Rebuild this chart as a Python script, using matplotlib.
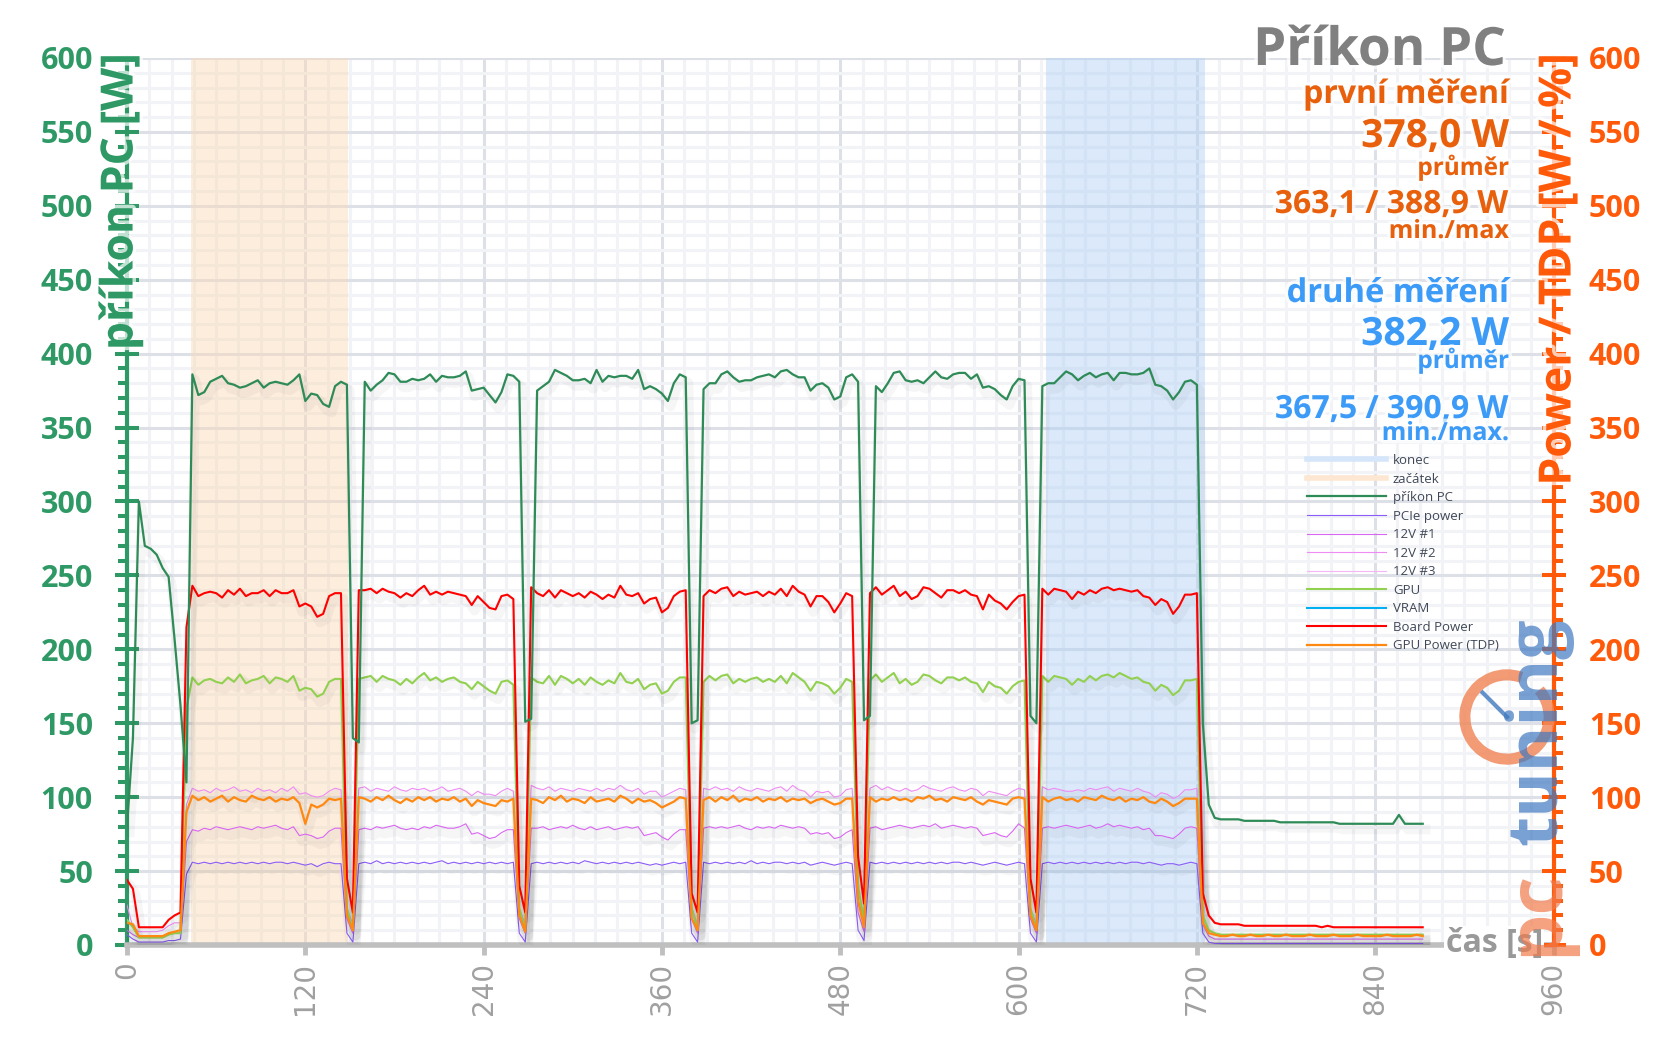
import numpy as np
import matplotlib
matplotlib.use("Agg")
import matplotlib.pyplot as plt
from matplotlib.lines import Line2D
from matplotlib.ticker import MultipleLocator
import matplotlib.patheffects as pe
from matplotlib.patches import Arc

# ---------------- data (sampled every 4 s) ----------------
TIME_S = np.arange(0, 873, 4)

PC_POWER = [
    80, 140, 300, 270, 268, 264, 255, 249, 207, 162,
    110, 386, 372, 374, 381, 383, 385, 380, 379, 377,
    378, 380, 382, 377, 380, 381, 380, 379, 382, 386,
    368, 373, 372, 366, 364, 378, 381, 379, 140, 137,
    381, 375, 379, 382, 387, 386, 381, 381, 383, 382,
    383, 386, 381, 385, 384, 384, 385, 388, 375, 376,
    377, 372, 367, 374, 386, 385, 381, 151, 153, 375,
    378, 381, 389, 387, 385, 382, 382, 383, 380, 389,
    381, 385, 384, 385, 385, 383, 389, 376, 378, 376,
    373, 368, 380, 386, 384, 150, 152, 376, 380, 380,
    386, 388, 384, 381, 382, 382, 384, 385, 386, 384,
    388, 389, 386, 384, 384, 375, 379, 380, 377, 369,
    371, 384, 386, 381, 152, 155, 378, 374, 380, 387,
    388, 382, 381, 382, 380, 384, 388, 384, 383, 386,
    387, 387, 383, 386, 377, 378, 376, 372, 369, 378,
    383, 382, 155, 150, 378, 380, 380, 384, 388, 386,
    382, 385, 387, 384, 386, 387, 382, 387, 387, 386,
    386, 387, 390, 379, 378, 375, 369, 374, 381, 382,
    379, 150, 95, 86, 85, 85, 85, 85, 84, 84,
    84, 84, 84, 84, 83, 83, 83, 83, 83, 83,
    83, 83, 83, 83, 82, 82, 82, 82, 82, 82,
    82, 82, 82, 82, 88, 82, 82, 82, 82,
]

BOARD_POWER = [
    44, 38, 12, 12, 12, 12, 12, 17, 20, 22,
    215, 243, 236, 238, 239, 238, 235, 240, 237, 241,
    236, 238, 238, 240, 236, 240, 238, 238, 240, 229,
    231, 229, 222, 224, 236, 238, 238, 45, 22, 240,
    240, 241, 238, 241, 239, 238, 235, 238, 236, 240,
    243, 237, 239, 237, 239, 238, 237, 236, 230, 236,
    232, 228, 227, 236, 237, 234, 40, 22, 242, 238,
    236, 240, 235, 240, 238, 236, 238, 235, 239, 237,
    234, 237, 235, 243, 237, 236, 238, 231, 234, 235,
    225, 228, 236, 239, 240, 35, 22, 236, 240, 238,
    241, 242, 236, 239, 237, 238, 239, 236, 239, 237,
    241, 236, 243, 239, 237, 229, 236, 236, 232, 225,
    231, 238, 236, 60, 28, 238, 242, 237, 240, 243,
    236, 239, 234, 236, 242, 241, 238, 235, 240, 240,
    238, 240, 237, 236, 227, 237, 233, 231, 227, 232,
    236, 237, 45, 22, 241, 237, 241, 240, 239, 234,
    239, 237, 240, 238, 241, 242, 240, 241, 240, 239,
    240, 236, 235, 230, 234, 232, 224, 229, 237, 237,
    238, 35, 20, 15, 14, 14, 14, 14, 13, 13,
    13, 13, 13, 13, 13, 13, 13, 13, 13, 13,
    13, 12, 13, 12, 12, 12, 12, 12, 12, 12,
    12, 12, 12, 12, 12, 12, 12, 12, 12,
]

GPU = [
    17, 12, 5, 5, 5, 5, 5, 7, 8, 8,
    160, 181, 176, 179, 180, 178, 177, 181, 178, 183,
    177, 179, 180, 182, 177, 181, 180, 178, 182, 172,
    174, 173, 168, 170, 178, 180, 180, 25, 10, 180,
    181, 182, 178, 182, 180, 179, 176, 180, 177, 181,
    184, 179, 181, 178, 180, 181, 178, 177, 173, 178,
    175, 172, 170, 178, 179, 176, 25, 10, 181, 178,
    177, 182, 176, 182, 180, 177, 180, 176, 181, 178,
    176, 179, 177, 184, 178, 177, 180, 173, 176, 177,
    170, 172, 178, 181, 181, 25, 10, 178, 182, 179,
    182, 183, 177, 180, 178, 180, 181, 178, 180, 178,
    182, 177, 184, 181, 178, 172, 178, 177, 175, 170,
    174, 180, 178, 40, 15, 179, 183, 178, 181, 184,
    177, 180, 176, 178, 183, 182, 179, 177, 181, 181,
    179, 181, 178, 177, 171, 178, 175, 174, 170, 175,
    178, 179, 25, 10, 182, 178, 182, 181, 180, 176,
    180, 178, 182, 179, 182, 183, 181, 184, 182, 180,
    181, 178, 177, 172, 176, 174, 169, 172, 179, 179,
    180, 20, 10, 8, 7, 7, 7, 7, 7, 7,
    7, 7, 7, 7, 7, 7, 7, 7, 7, 7,
    7, 7, 7, 7, 7, 7, 7, 7, 7, 7,
    7, 7, 7, 7, 7, 7, 7, 7, 7,
]

GPU_TDP = [
    15, 14, 6, 6, 6, 6, 6, 8, 9, 10,
    90, 101, 98, 100, 97, 99, 101, 97, 100, 98,
    97, 101, 99, 98, 100, 97, 99, 98, 100, 96,
    82, 95, 93, 95, 99, 98, 99, 20, 10, 100,
    99, 97, 100, 98, 101, 98, 96, 99, 97, 100,
    98, 100, 97, 99, 98, 100, 97, 99, 94, 98,
    96, 95, 94, 98, 97, 99, 20, 9, 99, 98,
    96, 100, 98, 101, 97, 99, 98, 96, 100, 97,
    98, 99, 97, 101, 99, 96, 99, 97, 98, 96,
    93, 95, 97, 100, 99, 18, 10, 98, 100, 97,
    100, 98, 101, 97, 99, 98, 100, 97, 99, 98,
    100, 97, 99, 98, 99, 96, 98, 99, 97, 95,
    96, 99, 99, 30, 12, 100, 97, 99, 98, 100,
    98, 99, 97, 100, 99, 101, 98, 99, 97, 100,
    99, 98, 100, 97, 95, 98, 97, 96, 95, 99,
    100, 99, 20, 10, 100, 97, 99, 100, 98, 99,
    97, 100, 99, 98, 101, 99, 98, 100, 97, 99,
    98, 100, 97, 96, 99, 97, 94, 96, 99, 99,
    99, 15, 8, 7, 6, 6, 7, 6, 6, 7,
    6, 6, 7, 6, 6, 7, 6, 6, 6, 7,
    6, 6, 6, 7, 6, 6, 6, 7, 6, 6,
    6, 6, 7, 6, 6, 6, 6, 7, 6,
]

V12_2 = [
    27, 12, 9, 9, 9, 9, 10, 13, 15, 15,
    95, 106, 104, 105, 103, 106, 104, 105, 107, 104,
    105, 103, 106, 104, 105, 103, 106, 104, 107, 102,
    103, 101, 100, 101, 104, 106, 105, 25, 14, 106,
    107, 104, 106, 105, 104, 107, 105, 104, 106, 105,
    106, 104, 105, 107, 104, 105, 106, 104, 101, 104,
    102, 102, 101, 104, 106, 104, 25, 14, 108, 106,
    105, 107, 104, 106, 105, 104, 106, 105, 104, 106,
    104, 106, 105, 108, 105, 104, 106, 102, 104, 104,
    100, 102, 104, 106, 105, 25, 14, 106, 105, 107,
    105, 106, 104, 107, 105, 104, 106, 105, 104, 106,
    107, 104, 108, 105, 104, 100, 104, 103, 104, 100,
    101, 105, 106, 30, 16, 106, 108, 105, 107, 105,
    104, 106, 104, 105, 108, 106, 105, 104, 106, 107,
    105, 104, 106, 105, 101, 104, 103, 102, 101, 104,
    106, 105, 25, 14, 107, 105, 106, 105, 104, 104,
    105, 104, 106, 105, 106, 107, 104, 106, 105, 104,
    106, 104, 103, 100, 103, 102, 99, 101, 105, 105,
    106, 18, 10, 8, 7, 7, 7, 7, 7, 7,
    7, 7, 7, 7, 7, 7, 7, 7, 7, 7,
    7, 7, 7, 7, 7, 7, 7, 7, 7, 7,
    7, 7, 7, 7, 7, 7, 7, 7, 7,
]

V12_1 = [
    10, 7, 5, 5, 5, 5, 5, 7, 8, 8,
    70, 78, 77, 79, 78, 80, 79, 78, 79, 80,
    79, 78, 80, 79, 80, 81, 79, 78, 80, 74,
    75, 74, 72, 73, 77, 79, 79, 18, 8, 78,
    79, 78, 80, 79, 80, 81, 79, 78, 79, 78,
    80, 79, 81, 80, 79, 79, 80, 82, 75, 76,
    74, 72, 73, 76, 78, 78, 18, 8, 79, 79,
    80, 78, 79, 80, 79, 81, 79, 78, 80, 78,
    79, 80, 78, 79, 80, 79, 80, 74, 75, 76,
    73, 71, 75, 78, 78, 18, 8, 79, 80, 79,
    80, 79, 80, 81, 79, 78, 80, 79, 80, 79,
    81, 80, 79, 80, 79, 75, 76, 75, 76, 72,
    73, 76, 78, 22, 9, 79, 80, 78, 79, 80,
    81, 80, 79, 80, 81, 80, 82, 79, 80, 81,
    80, 79, 80, 79, 74, 75, 76, 74, 73, 77,
    82, 79, 18, 8, 79, 80, 79, 80, 81, 80,
    79, 80, 81, 79, 80, 82, 80, 81, 80, 79,
    80, 78, 79, 74, 74, 73, 72, 75, 79, 80,
    79, 14, 6, 4, 4, 4, 4, 4, 4, 4,
    4, 4, 4, 4, 4, 4, 4, 4, 4, 4,
    4, 4, 4, 4, 4, 4, 4, 4, 4, 4,
    4, 4, 4, 4, 4, 4, 4, 4, 4,
]

PCIE = [
    7, 4, 2, 2, 2, 2, 2, 3, 3, 4,
    48, 56, 55, 56, 55, 56, 55, 56, 55, 56,
    55, 56, 55, 56, 55, 56, 56, 55, 56, 55,
    54, 55, 53, 55, 56, 55, 55, 8, 2, 55,
    56, 55, 57, 55, 56, 55, 56, 55, 56, 55,
    56, 55, 56, 57, 55, 56, 55, 56, 55, 56,
    55, 56, 55, 56, 55, 56, 8, 2, 55, 56,
    55, 56, 55, 56, 55, 56, 55, 57, 56, 55,
    56, 55, 56, 55, 56, 55, 56, 55, 54, 55,
    54, 55, 56, 55, 56, 8, 2, 56, 55, 56,
    55, 56, 55, 56, 55, 57, 55, 56, 55, 56,
    56, 55, 56, 55, 56, 54, 55, 56, 55, 54,
    55, 56, 55, 10, 3, 56, 55, 56, 55, 56,
    55, 56, 55, 56, 55, 56, 55, 56, 55, 56,
    56, 55, 56, 55, 54, 55, 56, 55, 54, 55,
    56, 55, 8, 2, 55, 56, 55, 56, 55, 56,
    55, 56, 55, 56, 55, 56, 55, 56, 55, 56,
    56, 55, 56, 55, 54, 55, 55, 54, 55, 56,
    55, 8, 2, 1, 1, 1, 1, 1, 1, 1,
    1, 1, 1, 1, 1, 1, 1, 1, 1, 1,
    1, 1, 1, 1, 1, 1, 1, 1, 1, 1,
    1, 1, 1, 1, 1, 1, 1, 1, 1,
]

V12_3 = []   # not visible in the chart
VRAM = []    # not visible in the chart

BAND_START = (43.4, 148.6)   # "začátek"
BAND_END = (618.7, 725.3)    # "konec"

X_TICKS = [0, 120, 240, 360, 480, 600, 720, 840, 960]
Y_TICKS = [0, 50, 100, 150, 200, 250, 300, 350, 400, 450, 500, 550, 600]

# ---------------- style ----------------
plt.rcParams['font.family'] = ['Open Sans', 'DejaVu Sans']
GREEN = '#2f9966'
ORANGE_AX = '#ff5a0a'
ORANGE_TX = '#e8600c'
BLUE_TX = '#3d9bf8'
GREY = '#a0a0a0'

W, H = 1657, 1044
fig = plt.figure(figsize=(W / 100, H / 100), dpi=100)
ax = fig.add_axes([127 / W, 1 - 945 / H, (1553.5 - 127) / W, (945 - 58) / H])
ax.set_xlim(0, 960)
ax.set_ylim(0, 600)

ax.set_axisbelow(True)
ax.xaxis.set_minor_locator(MultipleLocator(15))
ax.yaxis.set_minor_locator(MultipleLocator(10))
ax.grid(which='minor', color='#f1f3f6', lw=2.2)
ax.grid(which='major', color='#dde0e7', lw=2.2)

ax.axvspan(*BAND_START, facecolor='#fbd9b5', alpha=0.45, lw=0, zorder=1)
ax.axvspan(*BAND_END, facecolor='#b0d0f5', alpha=0.45, lw=0, zorder=1)

shadow = [pe.SimpleLineShadow(offset=(2, -4), shadow_color='#000000', alpha=0.035, linewidth=7),
          pe.Normal()]

series = [
    (PCIE, '#8b5cf6', 0.8, 'PCIe power'),
    (V12_1, '#d966f0', 0.8, '12V #1'),
    (V12_2, '#ee8cf3', 0.8, '12V #2'),
    (V12_3, '#f5b6f8', 0.8, '12V #3'),
    (GPU, '#92d050', 1.5, 'GPU'),
    (VRAM, '#00b0f0', 1.5, 'VRAM'),
    (BOARD_POWER, '#ff0000', 1.5, 'Board Power'),
    (GPU_TDP, '#ff8811', 1.6, 'GPU Power (TDP)'),
]
lines = {}
for vals, col, lw, lab in series:
    t = TIME_S[:len(vals)]
    ln, = ax.plot(t, vals, color=col, lw=lw, zorder=3, label=lab, path_effects=shadow)
    lines[lab] = ln
ln, = ax.plot(TIME_S[:len(PC_POWER)], PC_POWER, color='#2e8b57', lw=1.6, zorder=4,
              label='příkon PC', path_effects=shadow)
lines['příkon PC'] = ln

# spines & ticks
for s in ['top', 'right']:
    ax.spines[s].set_visible(False)
ax.spines['left'].set_color(GREEN)
ax.spines['left'].set_linewidth(3)
ax.spines['bottom'].set_color('#bfbfbf')
ax.spines['bottom'].set_linewidth(4)
ax.set_yticks(Y_TICKS)
ax.set_xticks(X_TICKS)
ax.set_xticklabels([str(v) for v in X_TICKS], rotation=90, family='DejaVu Sans',
                   fontsize=20, color=GREY)
ax.tick_params(axis='x', which='major', direction='out', length=7, width=3.5, color='#bfbfbf', pad=5)
ax.tick_params(axis='x', which='minor', length=0)
ax.tick_params(axis='y', which='major', direction='inout', length=17, width=2.9, color=GREEN,
               labelcolor=GREEN, labelsize=22, pad=16)
ax.tick_params(axis='y', which='minor', direction='out', length=6.5, width=2.9, color=GREEN)
for lbl in ax.get_yticklabels():
    lbl.set_fontweight('bold')

ax2 = ax.twinx()
ax2.set_ylim(0, 600)
for s in ['top', 'left', 'bottom']:
    ax2.spines[s].set_visible(False)
ax2.spines['right'].set_color(ORANGE_AX)
ax2.spines['right'].set_linewidth(3)
ax2.set_yticks(Y_TICKS)
ax2.yaxis.set_minor_locator(MultipleLocator(10))
ax2.tick_params(axis='y', which='major', direction='inout', length=17, width=2.9, color=ORANGE_AX,
                labelcolor=ORANGE_AX, labelsize=22, pad=17)
ax2.tick_params(axis='y', which='minor', direction='out', length=6.5, width=2.9, color=ORANGE_AX)
for lbl in ax2.get_yticklabels():
    lbl.set_fontweight('bold')

glow = [pe.withStroke(linewidth=5, foreground='white', alpha=0.7)]

# axis titles
fig.text(121 / W, 1 - 53 / H, 'příkon PC [W]', rotation=90, ha='center', va='top',
         fontsize=32, fontweight='bold', color=GREEN, path_effects=glow)
fig.text(1559 / W, 1 - 53 / H, 'Power / TDP [W / %]', rotation=90, ha='center', va='top',
         fontsize=32, fontweight='bold', color=ORANGE_AX, path_effects=glow)
fig.text(1543 / W, 1 - 944 / H, 'čas [s]', ha='right', va='center', fontsize=23,
         fontweight='bold', color='#999999',
         bbox=dict(facecolor='white', edgecolor='none', pad=1))

# title and summary texts
fig.text(1506 / W, 1 - 65 / H, 'Příkon PC', ha='right', va='baseline', fontsize=38,
         fontweight='bold', color='#808080', path_effects=glow)
RX = 1509 / W
texts = [
    ('první měření', 103, 23, ORANGE_TX),
    ('378,0 W', 147, 28, ORANGE_TX),
    ('průměr', 175, 17.5, ORANGE_TX),
    ('363,1 / 388,9 W', 213, 23, ORANGE_TX),
    ('min./max', 238, 18, ORANGE_TX),
    ('druhé měření', 302, 23.5, BLUE_TX),
    ('382,2 W', 345, 28, BLUE_TX),
    ('průměr', 368, 17.5, BLUE_TX),
    ('367,5 / 390,9 W', 418, 23, BLUE_TX),
    ('min./max.', 440, 18, BLUE_TX),
]
for s, yb, fs, col in texts:
    fig.text(RX, 1 - yb / H, s, ha='right', va='baseline', fontsize=fs, fontweight='bold',
             color=col, path_effects=glow)

# legend
handles = [
    Line2D([], [], color='#d6e6fa', lw=4),
    Line2D([], [], color='#fde6d2', lw=4),
    lines['příkon PC'], lines['PCIe power'], lines['12V #1'], lines['12V #2'],
    lines['12V #3'], lines['GPU'], lines['VRAM'], lines['Board Power'], lines['GPU Power (TDP)'],
]
labels = ['konec', 'začátek', 'příkon PC', 'PCIe power', '12V #1', '12V #2', '12V #3',
          'GPU', 'VRAM', 'Board Power', 'GPU Power (TDP)']
leg = ax.legend(handles, labels, loc='upper left', bbox_to_anchor=(1307 / W, 1 - 454 / H),
                bbox_transform=fig.transFigure, frameon=False, fontsize=9.5,
                handlelength=6, handletextpad=0.5, labelspacing=0.42, borderpad=0,
                borderaxespad=0)
for txt in leg.get_texts():
    txt.set_color('#404858')
for h in leg.legend_handles:
    h.set_path_effects([])

# logo (watermark, drawn on top)
lax = fig.add_axes([1458 / W, 1 - 766 / H, 98 / W, 98 / H])
lax.set_xlim(-1, 1)
lax.set_ylim(-1, 1)
lax.set_aspect('equal')
lax.axis('off')
lax.add_patch(Arc((0, 0), 1.72, 1.72, theta1=70, theta2=400, lw=8, color='#f08a5d', alpha=0.85))
lax.plot([0, -0.5], [0, 0.5], color='#4a7fc0', lw=3, alpha=0.85)
fig.text(1538 / W, 1 - 845 / H, 'tuning', rotation=90, ha='center', va='bottom',
         fontsize=50, fontweight='bold', color='#3f78c0', alpha=0.7, zorder=10)
fig.text(1538 / W, 1 - 956 / H, 'pc', rotation=90, ha='center', va='bottom',
         fontsize=54, fontweight='bold', color='#f07a4a', alpha=0.7, zorder=10)

fig.savefig('out.png', dpi=100)
